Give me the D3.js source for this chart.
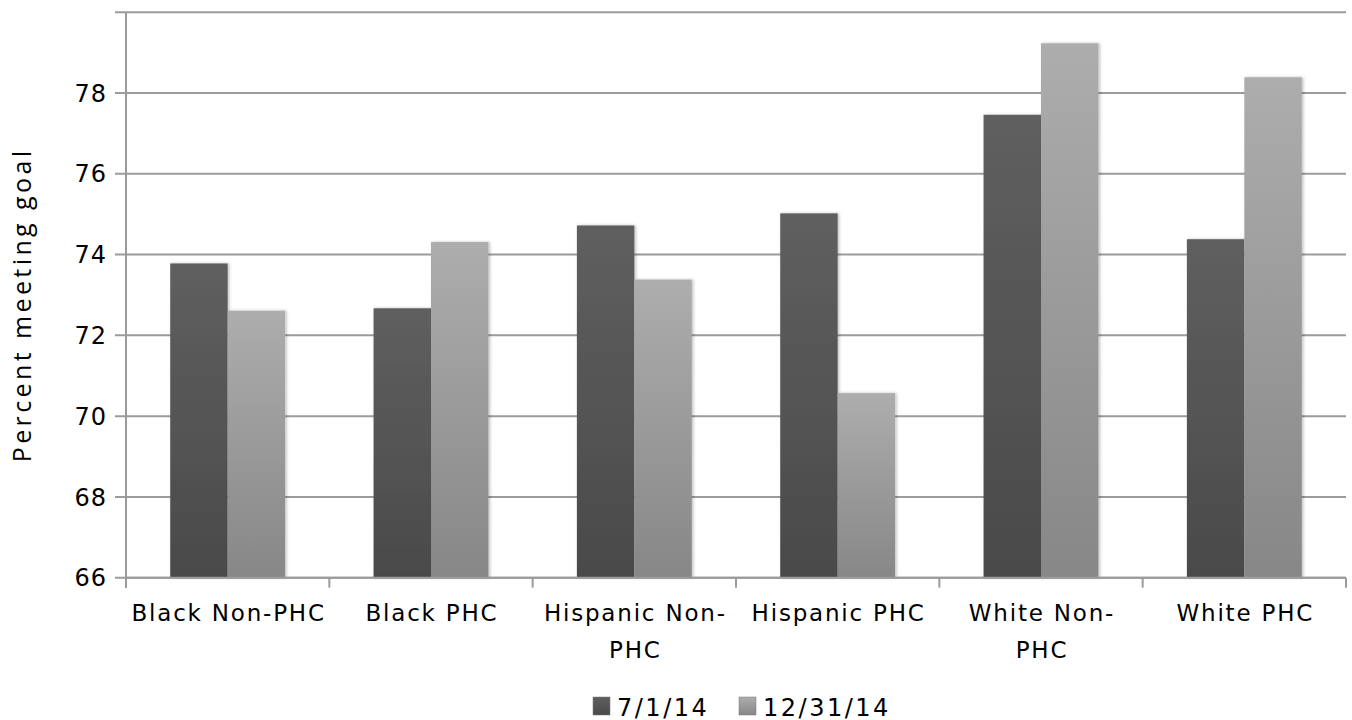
<!DOCTYPE html>
<html>
<head>
<meta charset="utf-8">
<script src="https://cdn.jsdelivr.net/npm/d3@7"></script>
<style>
  html, body { margin: 0; padding: 0; background: #fff; }
  svg { display: block; }
</style>
</head>
<body>
<script>
// Chart data
const categories = [
  ["Black Non-PHC"],
  ["Black PHC"],
  ["Hispanic Non-", "PHC"],
  ["Hispanic PHC"],
  ["White Non-", "PHC"],
  ["White PHC"]
];
const seriesNames = ["7/1/14", "12/31/14"];
const julyValues = [73.78, 72.67, 74.72, 75.02, 77.46, 74.38];
const decValues  = [72.61, 74.31, 73.38, 70.57, 79.23, 78.39];
const gridValues = [66, 68, 70, 72, 74, 76, 78, 80];
const yTickLabels = [66, 68, 70, 72, 74, 76, 78];
const yTitle = "Percent meeting goal";

const W = 1352, H = 720;
const plotLeft = 126, plotRight = 1346, plotTop = 12.2, plotBottom = 577.7;

const svg = d3.select("body").append("svg")
  .attr("width", W).attr("height", H);

const defs = svg.append("defs");
const grads = [["gDark", "#5f5f5f", "#4a4a4a"], ["gLight", "#adadad", "#878787"]];
grads.forEach(([id, c0, c1]) => {
  const g = defs.append("linearGradient").attr("id", id)
    .attr("x1", 0).attr("y1", 0).attr("x2", 0).attr("y2", 1);
  g.append("stop").attr("offset", "0%").attr("stop-color", c0);
  g.append("stop").attr("offset", "100%").attr("stop-color", c1);
});
const shadow = defs.append("filter").attr("id", "barShadow")
  .attr("x", "-20%").attr("y", "-5%").attr("width", "140%").attr("height", "110%");
shadow.append("feDropShadow").attr("dx", 1.5).attr("dy", 0).attr("stdDeviation", 1.5)
  .attr("flood-color", "#000").attr("flood-opacity", 0.25);

const catKeys = categories.map(c => c.join(" "));
const x0 = d3.scaleBand().domain(catKeys).range([plotLeft, plotRight]).paddingInner(0).paddingOuter(0);
const x1 = d3.scaleBand().domain(seriesNames).range([0, x0.bandwidth()])
  .paddingInner(0).paddingOuter(0.77);
const y = d3.scaleLinear().domain([66, 80]).range([plotBottom, plotTop]);

// Horizontal gridlines with left tick stubs
svg.append("g").selectAll("line").data(gridValues).join("line")
  .attr("x1", plotLeft - 11).attr("x2", plotRight)
  .attr("y1", d => y(d)).attr("y2", d => y(d))
  .attr("stroke", "#9b9b9b").attr("stroke-width", 2);

// Y axis tick labels
svg.append("g").selectAll("text").data(yTickLabels).join("text")
  .attr("x", 107).attr("y", d => y(d))
  .attr("dy", "0.36em")
  .attr("text-anchor", "end")
  .attr("font-family", "DejaVu Sans")
  .attr("font-size", 24)
  .attr("letter-spacing", 1)
  .attr("fill", "#000")
  .text(d => d);

// Y axis title
svg.append("text")
  .attr("transform", `translate(31,${(plotTop + plotBottom) / 2 + 10}) rotate(-90)`)
  .attr("text-anchor", "middle")
  .attr("font-family", "Open Sans")
  .attr("font-size", 25)
  .attr("letter-spacing", 3.4)
  .attr("fill", "#000")
  .text(yTitle);

// Bars
const rows = catKeys.map((k, i) => ({ key: k, values: [julyValues[i], decValues[i]] }));
const groups = svg.append("g").selectAll("g").data(rows).join("g")
  .attr("transform", d => `translate(${x0(d.key)},0)`);
groups.selectAll("rect").data(d => d.values.map((v, j) => ({ name: seriesNames[j], v, j })))
  .join("rect")
  .attr("x", d => x1(d.name))
  .attr("width", x1.bandwidth())
  .attr("y", d => y(d.v))
  .attr("height", d => y(66) - y(d.v))
  .attr("fill", d => d.j === 0 ? "url(#gDark)" : "url(#gLight)")
  .attr("filter", "url(#barShadow)");

// Axis lines
svg.append("line")
  .attr("x1", plotLeft).attr("x2", plotLeft).attr("y1", plotTop).attr("y2", plotBottom + 10)
  .attr("stroke", "#9b9b9b").attr("stroke-width", 2);
svg.append("line")
  .attr("x1", plotLeft).attr("x2", plotRight).attr("y1", plotBottom).attr("y2", plotBottom)
  .attr("stroke", "#9b9b9b").attr("stroke-width", 2);
const boundaries = catKeys.map(k => x0(k)).concat([plotRight]);
svg.append("g").selectAll("line").data(boundaries).join("line")
  .attr("x1", d => d).attr("x2", d => d)
  .attr("y1", plotBottom).attr("y2", plotBottom + 10)
  .attr("stroke", "#9b9b9b").attr("stroke-width", 2);

// Category labels
const labels = svg.append("g").selectAll("text").data(categories).join("text")
  .attr("x", (d, i) => x0(catKeys[i]) + x0.bandwidth() / 2 + 1)
  .attr("y", 621)
  .attr("text-anchor", "middle")
  .attr("font-family", "DejaVu Sans")
  .attr("font-size", 23)
  .attr("letter-spacing", 1.8)
  .attr("fill", "#000");
labels.each(function(d) {
  const t = d3.select(this);
  d.forEach((line, k) => {
    t.append("tspan")
      .attr("x", t.attr("x"))
      .attr("dy", k === 0 ? 0 : 37)
      .text(line);
  });
});

// Legend
const legendItems = [
  { name: seriesNames[0], fill: "url(#gDark)", x: 593 },
  { name: seriesNames[1], fill: "url(#gLight)", x: 739 }
];
const lg = svg.append("g").selectAll("g").data(legendItems).join("g")
  .attr("transform", d => `translate(${d.x},697)`);
lg.append("rect").attr("width", 17).attr("height", 18).attr("fill", d => d.fill)
  .attr("stroke", "#777").attr("stroke-width", 0.5);
lg.append("text")
  .attr("x", 24).attr("y", 18.5)
  .attr("font-family", "DejaVu Sans")
  .attr("font-size", 24)
  .attr("letter-spacing", 2.5)
  .attr("fill", "#000")
  .text(d => d.name);
</script>
</body>
</html>
